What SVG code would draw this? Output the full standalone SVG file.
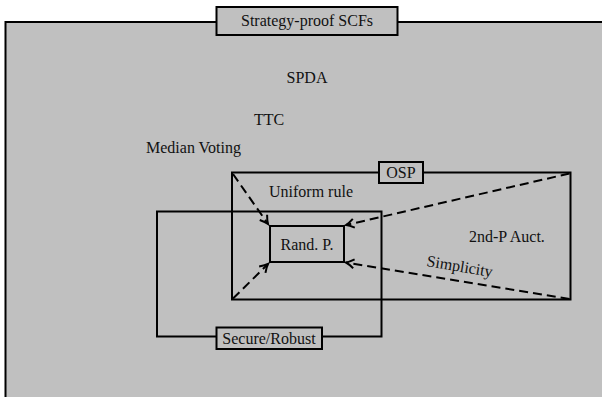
<svg xmlns="http://www.w3.org/2000/svg" width="602" height="397" viewBox="0 0 602 397" font-family="'Liberation Serif', 'Times New Roman', Times, serif">
<defs>
<style>
text{font-family:'Liberation Serif','Times New Roman',Times,serif;font-size:16px;fill:#111}
.m{text-anchor:middle}
.box{fill:none;stroke:#000;stroke-width:2}
.lbl{fill:#c0c0c0;stroke:#000;stroke-width:2}
.dash{fill:none;stroke:#000;stroke-width:2;stroke-dasharray:9 5;marker-end:url(#ah)}
</style>
<marker id="ah" viewBox="-10 -6 12 12" refX="0" refY="0" markerWidth="12" markerHeight="12" markerUnits="userSpaceOnUse" orient="auto">
<path d="M-8,-4.5 Q-3,-1 0,0 Q-3,1 -8,4.5" fill="none" stroke="#000" stroke-width="2"/>
</marker>
</defs>
<rect x="0" y="0" width="602" height="397" fill="#fff"/>
<g id="scf">
<rect x="5.5" y="22" width="620" height="400" fill="#c0c0c0" stroke="#000" stroke-width="2"/>
<rect class="lbl" x="216.5" y="7" width="181" height="28"/>
<text class="m" x="307" y="25.5">Strategy-proof SCFs</text>
</g>
<g id="spda"><text class="m" x="307" y="83">SPDA</text></g>
<g id="ttc"><text class="m" x="269" y="125">TTC</text></g>
<g id="median"><text x="146" y="153">Median Voting</text></g>
<g id="secure">
<rect class="box" x="157" y="211.5" width="224.5" height="125"/>
</g>
<g id="osp">
<rect class="box" x="232" y="172.5" width="338.5" height="127"/>
</g>
<g id="uniform"><text class="m" x="311" y="196.5">Uniform rule</text></g>
<g id="auct"><text x="469" y="241.5">2nd-P Auct.</text></g>
<g id="randp">
<rect class="box" x="270" y="226" width="74" height="36"/>
<text class="m" x="307" y="250">Rand. P.</text>
</g>
<g id="connectors">
<line class="dash" x1="233" y1="174" x2="268" y2="224"/>
<line class="dash" x1="233" y1="298.5" x2="268" y2="264"/>
<line class="dash" x1="569.5" y1="173.5" x2="346" y2="225"/>
<line class="dash" x1="569.5" y1="299" x2="346" y2="262.5"/>
</g>
<g id="simplicity"><text x="426" y="266" transform="rotate(9.6 426 266)">Simplicity</text></g>
<g id="osp-label">
<rect class="lbl" x="379" y="162" width="44" height="21"/>
<text class="m" x="401" y="178">OSP</text>
</g>
<g id="secure-label">
<rect class="lbl" x="216.5" y="327.5" width="105.5" height="21.5"/>
<text class="m" x="269" y="343.5">Secure/Robust</text>
</g>
</svg>
